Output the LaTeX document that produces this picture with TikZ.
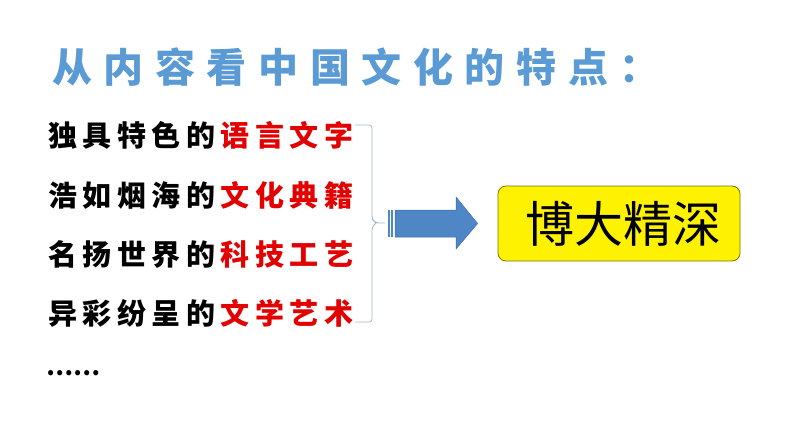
\documentclass[tikz,border=0pt]{standalone}
\usepackage{fontspec}
\usepackage{xcolor}
\usetikzlibrary{positioning,calc}

\newfontfamily\titlefont[LetterSpace=29]{Noto Sans CJK SC}
\newfontfamily\itemfont[LetterSpace=19]{Noto Sans CJK SC}
\newfontfamily\boxfont{Noto Sans CJK SC}

\definecolor{titleblue}{RGB}{91,155,213}
\definecolor{itemred}{RGB}{226,0,0}
\definecolor{arrowblue}{RGB}{79,134,198}
\definecolor{arrowedge}{RGB}{60,110,170}
\definecolor{bracegray}{RGB}{160,180,205}
\definecolor{boxedge}{RGB}{120,120,0}

\newcommand{\hl}[1]{\hspace{5.5pt}\textcolor{itemred}{#1}}

\begin{document}
\begin{tikzpicture}[
  x=1pt, y=-1pt,
  item/.style={anchor=west, inner sep=0pt,
               font=\itemfont\bfseries\fontsize{29pt}{32pt}\selectfont},
  brace/.style={draw=bracegray, line width=0.8pt, rounded corners=3pt},
  bigbox/.style={draw=boxedge, line width=0.8pt, fill=yellow, rounded corners=8pt,
                 minimum width=242pt, minimum height=75pt,
                 font=\boxfont\fontsize{49pt}{52pt}\selectfont}
]
\useasboundingbox (0,0) rectangle (794,447);

% Title
\node[anchor=west, inner sep=0pt, text=titleblue,
      font=\titlefont\bfseries\fontsize{40pt}{44pt}\selectfont] (title)
      at (52,67) {从内容看中国文化的特点：};

% Four features
\node[item] (row1) at (48,135) {独具特色的\hl{语言文字}};
\node[item] (row2) at (48,195) {浩如烟海的\hl{文化典籍}};
\node[item] (row3) at (48,254) {名扬世界的\hl{科技工艺}};
\node[item] (row4) at (48,313) {异彩纷呈的\hl{文学艺术}};
\node[anchor=west, inner sep=0pt, font=\boxfont\bfseries\fontsize{24pt}{26pt}\selectfont]
      (dots) at (46,373) {……};

% Brace
\coordinate (tip) at (385,223);
\draw[brace] (355,125) -| (372,219) -- (376,223) -- (tip);
\draw[brace] (376,223) -- (372,227) |- (355,322);

% Result box
\node[bigbox] (box) at (619,223.5) {\hspace{9pt}博大精深};

% Striped arrow
\fill[arrowblue] (388,210) rectangle (390,237);
\fill[arrowblue] (391,210) rectangle (393,237);
\filldraw[fill=arrowblue, draw=arrowedge, line width=0.5pt]
  (395,210) -- (456,210) -- (456,197) -- ($(box.west)+(-20,0)$)
  -- (456,249) -- (456,237) -- (395,237) -- cycle;

\end{tikzpicture}
\end{document}
